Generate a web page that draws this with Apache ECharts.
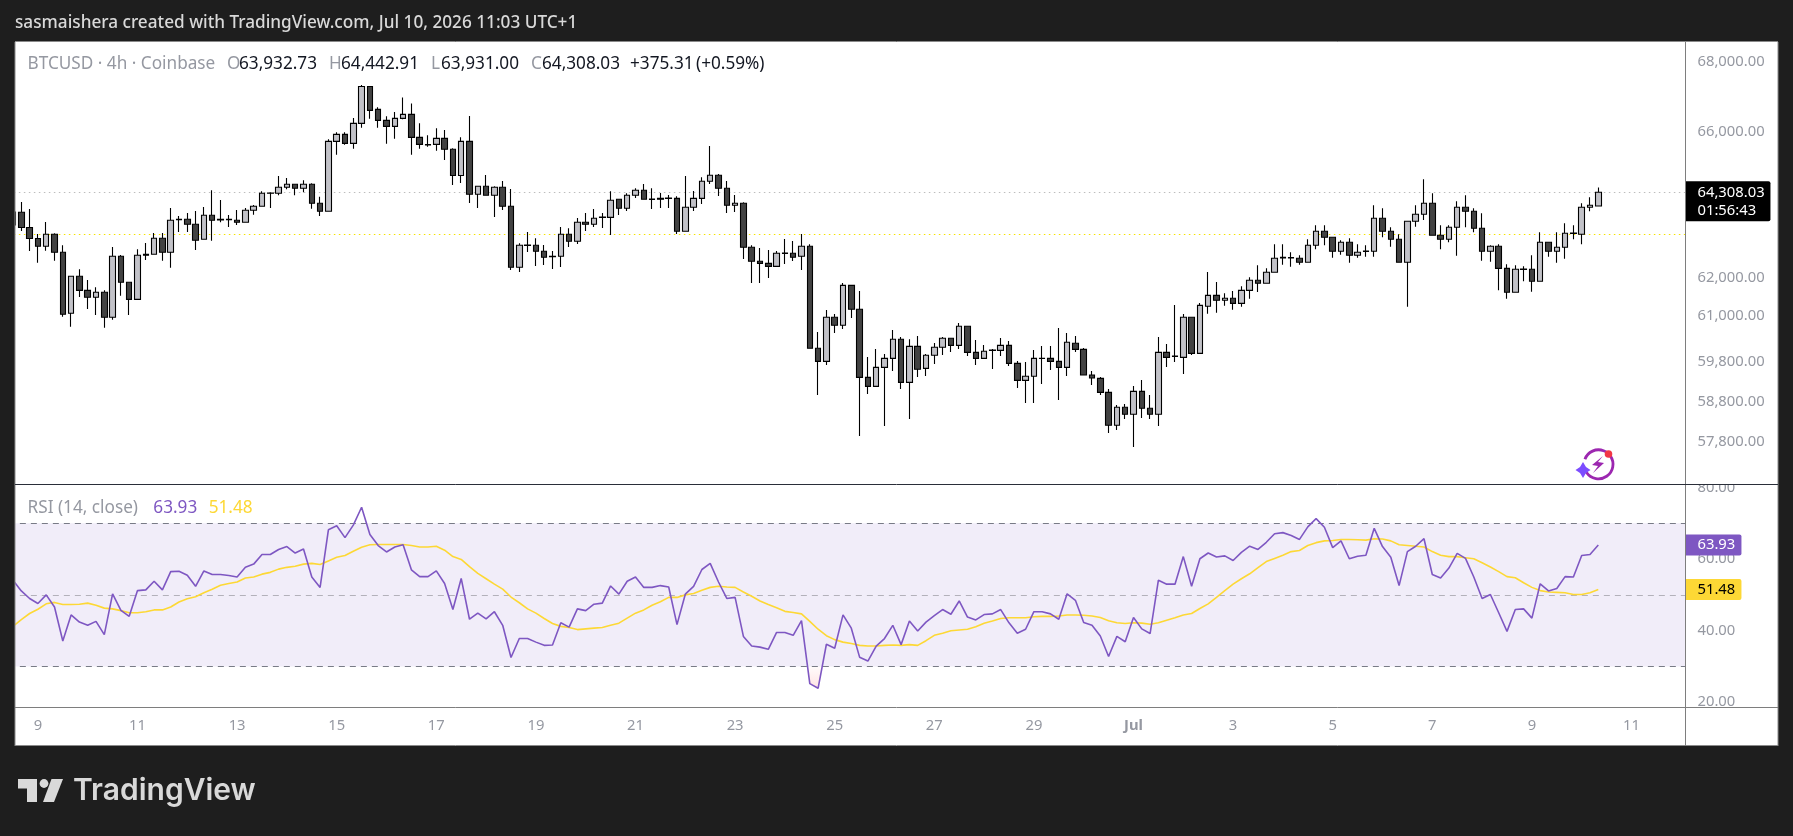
<!DOCTYPE html>
<html>
<head>
<meta charset="utf-8">
<style>html,body{margin:0;padding:0;background:#1e1e1e}#c{width:1793px;height:836px}</style>
<script src="https://cdn.jsdelivr.net/npm/echarts@6/dist/echarts.min.js"></script>
</head>
<body>
<div id="c"></div>
<script>
const opens = [
63769,63761,63347,63050,62840,63163,62678,61064,62038,61667,
61483,61615,60959,62571,61879,61430,62625,62625,63055,62678,
63569,63569,63433,63028,63679,63569,63569,63542,63488,63815,
63924,64289,64280,64446,64528,64418,64528,64006,63787,65724,
65921,65668,66232,67287,66630,66317,66147,66374,66487,65837,
65634,65640,65809,65501,64771,65724,64253,64473,64225,64446,
63924,62277,62871,62866,62705,62574,62571,63163,62974,63488,
63433,63629,63623,64115,63869,64225,64363,64121,64142,64148,
64142,63244,63896,64142,64611,64777,64418,63951,64006,62813,
62437,62383,62303,62657,62651,62571,62840,60156,59822,60959,
60751,61799,61168,59414,59185,59669,59898,60388,59287,60207,
59643,59977,60182,60414,60233,60725,60053,59898,60109,60104,
60233,59771,59337,59440,59903,59898,59822,59669,60285,60130,
59472,59388,59034,58207,58657,58482,59059,58632,58482,60053,
59955,59924,60959,60027,61247,61535,61404,61457,61325,61667,
61932,61852,62144,62544,62539,62518,62411,62866,63244,63082,
62705,62947,62598,62710,62705,63596,63244,63028,62411,63515,
63706,64006,63136,63028,63352,63896,63787,63325,62705,62840,
62250,61615,62229,62224,61906,62947,62705,62813,63195,63163,
63896,63932.73];
const closes = [
63415,63347,63050,62840,63163,62678,61038,62038,61667,61483,
61615,60959,62571,61879,61430,62598,62598,63055,62678,63542,
63558,63433,63001,63679,63542,63550,63558,63488,63815,63924,
64280,64280,64446,64528,64418,64528,64006,63787,65724,65921,
65668,66232,67287,66601,66317,66147,66374,66487,65837,65640,
65626,65809,65501,64771,65724,64253,64473,64225,64446,63924,
62277,62866,62860,62705,62544,62563,63163,62974,63488,63433,
63596,63618,64088,63869,64225,64363,64115,64110,64115,64137,
63244,63896,64142,64611,64777,64418,63951,64006,62813,62437,
62383,62303,62651,62646,62544,62840,60156,59822,60959,60751,
61799,61168,59414,59185,59669,59898,60388,59287,60207,59618,
59977,60182,60414,60233,60725,60053,59898,60079,60099,60233,
59771,59337,59440,59898,59893,59822,59669,60311,60130,59472,
59396,59034,58207,58657,58482,59059,58632,58482,60053,59924,
59945,60959,60027,61272,61535,61404,61457,61325,61667,61932,
61852,62144,62518,62525,62528,62411,62866,63244,63082,62705,
62947,62598,62678,62700,63596,63244,63028,62411,63515,63706,
64006,63136,63028,63352,63896,63787,63325,62705,62840,62250,
61615,62224,62218,61906,62947,62705,62813,63190,63185,63896,
63951,64308.03];
const lows = [
63360,63252,62713,62400,62721,62453,60976,60715,61491,61176,
61020,60689,60897,61525,61020,61430,62472,62625,62453,62266,
63225,63225,62740,63028,62990,63488,63360,63415,63488,63695,
63910,63877,64225,64390,64225,64308,63858,63659,63787,65350,
65629,65517,66108,66363,66108,65657,65798,66346,65350,65517,
65573,65461,65202,64509,64564,64014,63877,64225,63632,63823,
62205,62152,62687,62312,62339,62232,62285,62820,62901,63252,
63360,63333,63144,63686,63796,64151,64115,63850,63877,63877,
63171,63244,63796,63987,64537,64206,63741,63769,62499,61860,
61860,61993,62303,62365,62445,62205,60156,58966,59727,60551,
60655,60941,57941,58991,59185,58189,59575,59117,58364,59421,
59447,59753,59984,60061,60138,59958,59727,59898,59625,59958,
59702,59143,58765,58765,59244,59600,58840,59447,60061,59472,
59218,58966,58016,58090,58364,57669,58389,58364,58189,59676,
59804,59498,59984,60027,61053,61080,61262,61158,61236,61446,
61622,61852,62144,62347,62294,62347,62411,62759,62866,62534,
62614,62400,62534,62561,62561,63082,62829,62411,61236,63368,
63550,63136,62759,62947,62587,63352,63217,62453,62427,61667,
61446,61615,61906,61630,61906,62561,62400,62507,63028,62893,
63787,63931];
const highs = [
63877,64042,63850,63171,63496,63190,62866,62038,62224,61940,
61746,61667,62820,62606,61879,62759,62928,63198,63198,63877,
63659,63741,63796,63905,64363,64096,63686,63823,63877,63959,
64335,64308,64758,64703,64528,64639,64556,64187,65781,65978,
65978,66383,67325,67287,66687,66431,66553,66972,66801,66232,
65893,66091,66043,65529,65837,66440,64473,64785,64473,64619,
64398,62920,63225,63055,62874,62713,63360,63325,63604,63741,
63850,63741,64335,64115,64280,64418,64537,64418,64289,64234,
64198,64758,64344,64722,65593,64813,64619,64234,64033,62866,
62794,62740,62713,63036,62982,63171,62893,60577,61150,61046,
61861,61799,61649,59932,60138,60009,60629,60448,60388,60474,
60009,60293,60448,60414,60810,60725,60370,60241,60138,60422,
60344,59830,59804,60112,60215,60215,60681,60551,60474,60164,
59575,59421,59117,58715,58740,59193,59345,58966,60448,60267,
61281,61046,60959,61333,62152,61887,61588,61649,61773,62011,
62331,62250,62893,62893,62678,62598,63028,63406,63406,63082,
63001,63055,62893,62866,63951,63869,63352,63163,63515,63951,
64666,64280,63406,63406,64060,64225,63869,63733,62866,62893,
62357,62331,62304,62598,63217,62947,63217,63460,63406,64006,
64170,64442.91];
const rsi = [
54.1,51.1,49.0,47.6,50.0,46.6,37.1,44.4,42.4,41.5,
42.6,38.9,50.3,45.7,44.0,51.2,51.4,53.8,51.4,56.5,
56.6,55.5,52.4,56.7,55.7,55.7,55.4,55.0,57.7,58.6,
61.3,61.3,62.7,63.5,61.7,62.8,55.0,52.1,68.2,69.3,
66.0,69.5,74.5,66.9,63.8,62.0,63.4,64.0,57.0,55.1,
55.1,56.7,53.2,45.9,54.6,43.2,44.9,43.3,45.3,41.5,
32.5,37.8,37.8,36.8,35.9,36.0,42.2,41.0,46.1,45.6,
47.4,47.7,52.5,50.2,53.8,55.0,52.1,52.1,52.6,52.2,
41.7,50.2,52.4,57.1,58.8,53.6,49.0,49.3,38.4,35.7,
35.4,34.8,39.5,39.5,38.7,42.8,25.2,23.9,36.2,35.1,
44.4,40.7,32.6,31.5,35.7,37.8,41.5,36.1,42.7,39.9,
42.4,44.2,45.9,44.6,48.3,43.8,43.0,44.5,44.7,45.9,
42.2,39.3,40.4,45.3,45.3,44.7,43.2,50.3,48.5,42.3,
41.5,38.5,32.8,38.4,36.9,43.7,40.5,39.2,54.1,53.0,
53.0,60.7,52.4,60.1,61.7,60.6,60.9,59.6,61.9,63.6,
62.7,64.7,67.1,67.4,66.6,65.5,69.0,71.3,68.9,63.2,
65.1,60.1,60.8,61.1,68.6,63.5,60.5,52.6,62.1,63.6,
65.7,55.7,54.7,57.5,61.6,60.2,55.0,49.0,50.1,45.0,
39.8,45.9,46.1,43.5,53.1,51.1,51.8,55.1,55.0,61.0,
61.3,63.93];
const rsiMa = [
41.2,43.1,44.8,46.0,47.5,47.9,47.3,47.3,47.4,47.7,
47.1,46.3,46.1,45.6,45.0,45.0,45.3,45.8,45.8,46.6,
48.0,48.9,49.5,50.6,51.6,52.7,53.2,53.6,54.7,55.0,
55.8,56.3,57.2,57.7,58.0,58.6,58.8,58.5,59.5,60.5,
61.0,62.2,63.3,64.0,64.1,64.1,64.1,64.1,63.8,63.4,
63.4,63.6,62.5,60.7,59.9,57.9,56.0,54.5,53.0,51.6,
49.4,47.8,46.1,44.9,43.4,42.0,41.2,40.9,40.3,40.5,
40.7,40.9,41.5,42.1,43.5,44.9,45.8,47.1,48.1,49.3,
49.3,50.0,50.4,51.3,52.1,52.4,52.2,52.1,50.8,49.6,
48.3,47.3,46.4,45.4,45.1,44.7,42.6,40.4,38.6,37.5,
36.8,36.4,35.9,35.7,35.7,35.9,36.0,35.9,36.1,35.9,
37.2,38.7,39.3,40.0,40.2,40.4,41.1,42.1,42.7,43.4,
43.6,43.6,43.6,43.9,44.0,44.0,44.1,44.4,44.4,44.3,
44.1,43.7,42.8,42.2,42.0,42.2,42.1,41.8,42.2,42.9,
43.6,44.4,44.8,46.2,47.5,49.3,51.2,53.0,54.5,55.9,
57.6,59.3,60.2,61.1,62.1,62.4,63.8,64.6,65.1,65.2,
65.5,65.5,65.4,65.3,65.7,65.6,65.1,64.0,63.8,63.6,
63.4,62.1,61.1,60.7,60.7,60.4,60.1,59.0,57.8,56.5,
55.1,54.8,53.4,52.1,51.2,50.8,50.7,50.6,50.1,50.1,
50.6,51.48];

const xTickBars   = [3,15,27,39,51,63,75,87,99,111,123,135,147,159,171,183,195];
const xTickLabels = ['9','11','13','15','17','19','21','23','25','27','29','Jul','3','5','7','9','11'];
const barSlots = 202;
const priceTicks = [68000,66000,62000,61000,59800,58800,57800];
const rsiTicks = [80,60,40,20];
const lastPrice = 64308.03;
const secondPriceLine = 63163;
const countdown = '01:56:43';

const FONT = '"Noto Sans", sans-serif';
const AXIS_GREY = '#9598a1';
const AXIS_SIZE = 14.8;

const categories = new Array(barSlots).fill('');
xTickBars.forEach((b, i) => { categories[b] = xTickLabels[i]; });
const ohlc = opens.map((o, i) => [o, closes[i], lows[i], highs[i]]);
const fmtPrice = v => v.toLocaleString('en-US', {minimumFractionDigits: 2, maximumFractionDigits: 2});

const GL = 8.85, GR = 1685.45;
const chart = echarts.init(document.getElementById('c'), null, {renderer: 'canvas'});

function txt(x, y, text, size, fill, weight) {
  return {type: 'text', z: 60, silent: true, style: {x, y, text, fill, font: (weight || 400) + ' ' + size + 'px ' + FONT, textVerticalAlign: 'middle'}};
}
function hline(x1, x2, y, stroke) { return {type: 'line', z: 58, silent: true, shape: {x1, y1: y, x2, y2: y}, style: {stroke, lineWidth: 1}}; }
function vline(x, y1, y2, stroke) { return {type: 'line', z: 58, silent: true, shape: {x1: x, y1, x2: x, y2}, style: {stroke, lineWidth: 1}}; }
function rect(x, y, width, height, fill, z) { return {type: 'rect', z: z, silent: true, shape: {x, y, width, height}, style: {fill}}; }

const LS = 17.2, GY = '#9598a1', INK = '#131722', LY = 64.3;
const graphics = [
  rect(15, 42, 1763, 704, '#ffffff', 0),
  rect(0, 42, 15, 704, '#1e1e1e', 55),
  rect(1686, 470, 92, 14, '#ffffff', 55),
  rect(1686, 708, 92, 14, '#ffffff', 55),
  hline(15, 1778, 41.5, '#8a8a8a'),
  hline(15, 1778, 745.5, '#8a8a8a'),
  vline(15, 42, 746, '#8a8a8a'),
  vline(1778, 42, 746, '#8a8a8a'),
  vline(1685.5, 42, 746, '#7e7e7e'),
  hline(15, 1778, 484.5, '#2a2e39'),
  hline(15, 1778, 707.5, '#7e7e7e'),
  txt(15, 23.5, 'sasmaishera created with TradingView.com, Jul 10, 2026 11:03 UTC+1', 17.2, '#d9d9d9', 500),
  txt(27.5, LY, 'BTCUSD · 4h · Coinbase', LS, GY),
  txt(227, LY, 'O', LS, GY), txt(239, LY, '63,932.73', LS, INK),
  txt(329, LY, 'H', LS, GY), txt(341, LY, '64,442.91', LS, INK),
  txt(431, LY, 'L', LS, GY), txt(441, LY, '63,931.00', LS, INK),
  txt(531, LY, 'C', LS, GY), txt(542, LY, '64,308.03', LS, INK),
  txt(630, LY, '+375.31', LS, INK), txt(696, LY, '(+0.59%)', LS, INK),
  txt(27.5, 508, 'RSI (14, close)', LS, GY),
  txt(153.3, 508, '63.93', LS, '#7e57c2'),
  txt(208.7, 508, '51.48', LS, '#fdd835'),
  // TradingView wordmark
  {type: 'polygon', z: 60, silent: true, shape: {points: [[18,779],[37,779],[37,802],[27,802],[27,788.5],[18,788.5]]}, style: {fill: '#d9d9d9'}},
  {type: 'circle', z: 60, silent: true, shape: {cx: 44, cy: 783.5, r: 4.4}, style: {fill: '#d9d9d9'}},
  {type: 'polygon', z: 60, silent: true, shape: {points: [[51.5,779],[63,779],[54,802],[43,802]]}, style: {fill: '#d9d9d9'}},
  {type: 'text', z: 60, silent: true, style: {x: 73, y: 791, text: 'TradingView', fill: '#d9d9d9', font: '600 30px Inter, sans-serif', textVerticalAlign: 'middle'}},
  // assistant badge
  {type: 'arc', z: 60, silent: true, shape: {cx: 1598.5, cy: 464.3, r: 14.5, startAngle: -0.6, endAngle: 2.6, clockwise: true}, style: {stroke: '#9c27b0', lineWidth: 2.8, fill: 'none'}},
  {type: 'arc', z: 60, silent: true, shape: {cx: 1598.5, cy: 464.3, r: 14.5, startAngle: 3.5, endAngle: 5.3, clockwise: true}, style: {stroke: '#9c27b0', lineWidth: 2.8, fill: 'none'}},
  {type: 'polygon', z: 61, silent: true, shape: {points: [[1603,456],[1592,465],[1598,466],[1593,473],[1604,463],[1598,462]]}, style: {fill: '#9c27b0'}},
  {type: 'polygon', z: 61, silent: true, shape: {points: [[1583,462],[1586,467],[1590.5,470],[1586,473],[1583,478],[1580,473],[1575.5,470],[1580,467]]}, style: {fill: '#7c4dff'}},
  {type: 'circle', z: 62, silent: true, shape: {cx: 1608.5, cy: 454, r: 3.8}, style: {fill: '#f23645'}}
];

function oversoldZone(params, api) {
  const pts = [];
  for (let i = 0; i < rsi.length - 1; i++) {
    const a = rsi[i], b = rsi[i + 1];
    const xa = api.coord([i, a])[0], xb = api.coord([i + 1, b])[0];
    if (a >= 30 && b < 30) pts.push([xa + (xb - xa) * (a - 30) / (a - b), api.coord([i, 30])[1]]);
    if (b < 30) pts.push(api.coord([i + 1, b]));
    if (a < 30 && b >= 30) pts.push([xa + (xb - xa) * (30 - a) / (b - a), api.coord([i, 30])[1]]);
  }
  return {type: 'polygon', shape: {points: pts}, style: {fill: new echarts.graphic.LinearGradient(0, 0, 0, 1, [
    {offset: 0, color: 'rgba(255,82,82,0.02)'}, {offset: 1, color: 'rgba(255,82,82,0.16)'}])}};
}

const tagLabel = (bg, fg, text) => ({
  show: true, position: 'end', distance: 0, formatter: text, color: fg, backgroundColor: bg,
  padding: [3, 7, 3, 12], borderRadius: [0, 2, 2, 0], fontFamily: FONT, fontSize: AXIS_SIZE, lineHeight: 15, width: 37, align: 'left'
});
const NOLINE = {width: 1, color: 'rgba(0,0,0,0)'};

chart.setOption({
  backgroundColor: '#1e1e1e',
  animation: false,
  graphic: {elements: graphics},
  grid: [
    {left: GL, width: GR - GL, top: 42, height: 442.5, show: false},
    {left: GL, width: GR - GL, top: 484.5, height: 223, show: false}
  ],
  xAxis: [
    {type: 'category', gridIndex: 0, data: categories, boundaryGap: true, axisLine: {show: false}, axisTick: {show: false}, axisLabel: {show: false}, splitLine: {show: false}},
    {type: 'category', gridIndex: 1, data: categories, boundaryGap: true, axisLine: {show: false}, axisTick: {show: false}, splitLine: {show: false},
      axisLabel: {show: true, interval: 0, margin: 11, color: AXIS_GREY, fontFamily: FONT, fontSize: AXIS_SIZE,
        formatter: v => v === 'Jul' ? '{b|Jul}' : v, rich: {b: {fontWeight: 'bold', color: AXIS_GREY, fontFamily: FONT, fontSize: AXIS_SIZE}}}}
  ],
  yAxis: [
    {type: 'log', gridIndex: 0, position: 'right', min: 56752, max: 68578, logBase: 10, axisLine: {show: false}, axisTick: {show: false}, splitLine: {show: false}, minorTick: {show: false},
      axisLabel: {customValues: priceTicks, margin: 12, color: AXIS_GREY, fontFamily: FONT, fontSize: AXIS_SIZE, hideOverlap: false, formatter: v => fmtPrice(v)}},
    {type: 'value', gridIndex: 1, position: 'right', min: 18.53, max: 80.85, axisLine: {show: false}, axisTick: {show: false}, splitLine: {show: false},
      axisLabel: {customValues: rsiTicks, margin: 12, color: AXIS_GREY, fontFamily: FONT, fontSize: AXIS_SIZE, hideOverlap: false, formatter: v => v.toFixed(2)}}
  ],
  series: [
    {type: 'candlestick', name: 'BTCUSD', xAxisIndex: 0, yAxisIndex: 0, data: ohlc, barWidth: 6, z: 5,
      itemStyle: {color: '#c2c2c8', color0: '#424242', borderColor: '#000000', borderColor0: '#000000', borderWidth: 1.1},
      markLine: {silent: true, symbol: 'none', animation: false, z: 3,
        data: [
          {yAxis: lastPrice, lineStyle: {color: '#bdbdbd', type: [1.5, 3.5], width: 1.1},
            label: Object.assign(tagLabel('#000000', '#ffffff', fmtPrice(lastPrice) + '\n' + countdown), {offset: [0, 9], padding: [2, 7, 2, 12], lineHeight: 18, width: 66})},
          {yAxis: secondPriceLine, lineStyle: {color: '#f5e500', type: [1.5, 3.5], width: 1.1}, label: {show: false}}
        ]}},
    {type: 'custom', name: 'oversold', xAxisIndex: 1, yAxisIndex: 1, coordinateSystem: 'cartesian2d', data: [[0, 30]], renderItem: oversoldZone, silent: true, z: 2, clip: true},
    {type: 'line', name: 'RSI', xAxisIndex: 1, yAxisIndex: 1, data: rsi, showSymbol: false, symbol: 'none', z: 6,
      lineStyle: {color: '#7e57c2', width: 1.6},
      markArea: {silent: true, z: 1, itemStyle: {color: 'rgba(126,87,194,0.105)'}, data: [[{yAxis: 70}, {yAxis: 30}]]},
      markLine: {silent: true, symbol: 'none', animation: false, z: 4,
        data: [
          {yAxis: 70, lineStyle: {color: '#787b86', type: [6, 5], width: 1}, label: {show: false}},
          {yAxis: 50, lineStyle: {color: '#b3b1ba', type: [6, 5], width: 1}, label: {show: false}},
          {yAxis: 30, lineStyle: {color: '#787b86', type: [6, 5], width: 1}, label: {show: false}},
          {yAxis: rsi[rsi.length - 1], lineStyle: NOLINE, label: tagLabel('#7e57c2', '#ffffff', rsi[rsi.length - 1].toFixed(2))}
        ]}},
    {type: 'line', name: 'RSI MA', xAxisIndex: 1, yAxisIndex: 1, data: rsiMa, showSymbol: false, symbol: 'none', z: 5,
      lineStyle: {color: '#fdd835', width: 1.6},
      markLine: {silent: true, symbol: 'none', animation: false, z: 4,
        data: [{yAxis: rsiMa[rsiMa.length - 1], lineStyle: NOLINE, label: tagLabel('#fdd835', '#000000', rsiMa[rsiMa.length - 1].toFixed(2))}]}}
  ]
});
</script>
</body>
</html>
